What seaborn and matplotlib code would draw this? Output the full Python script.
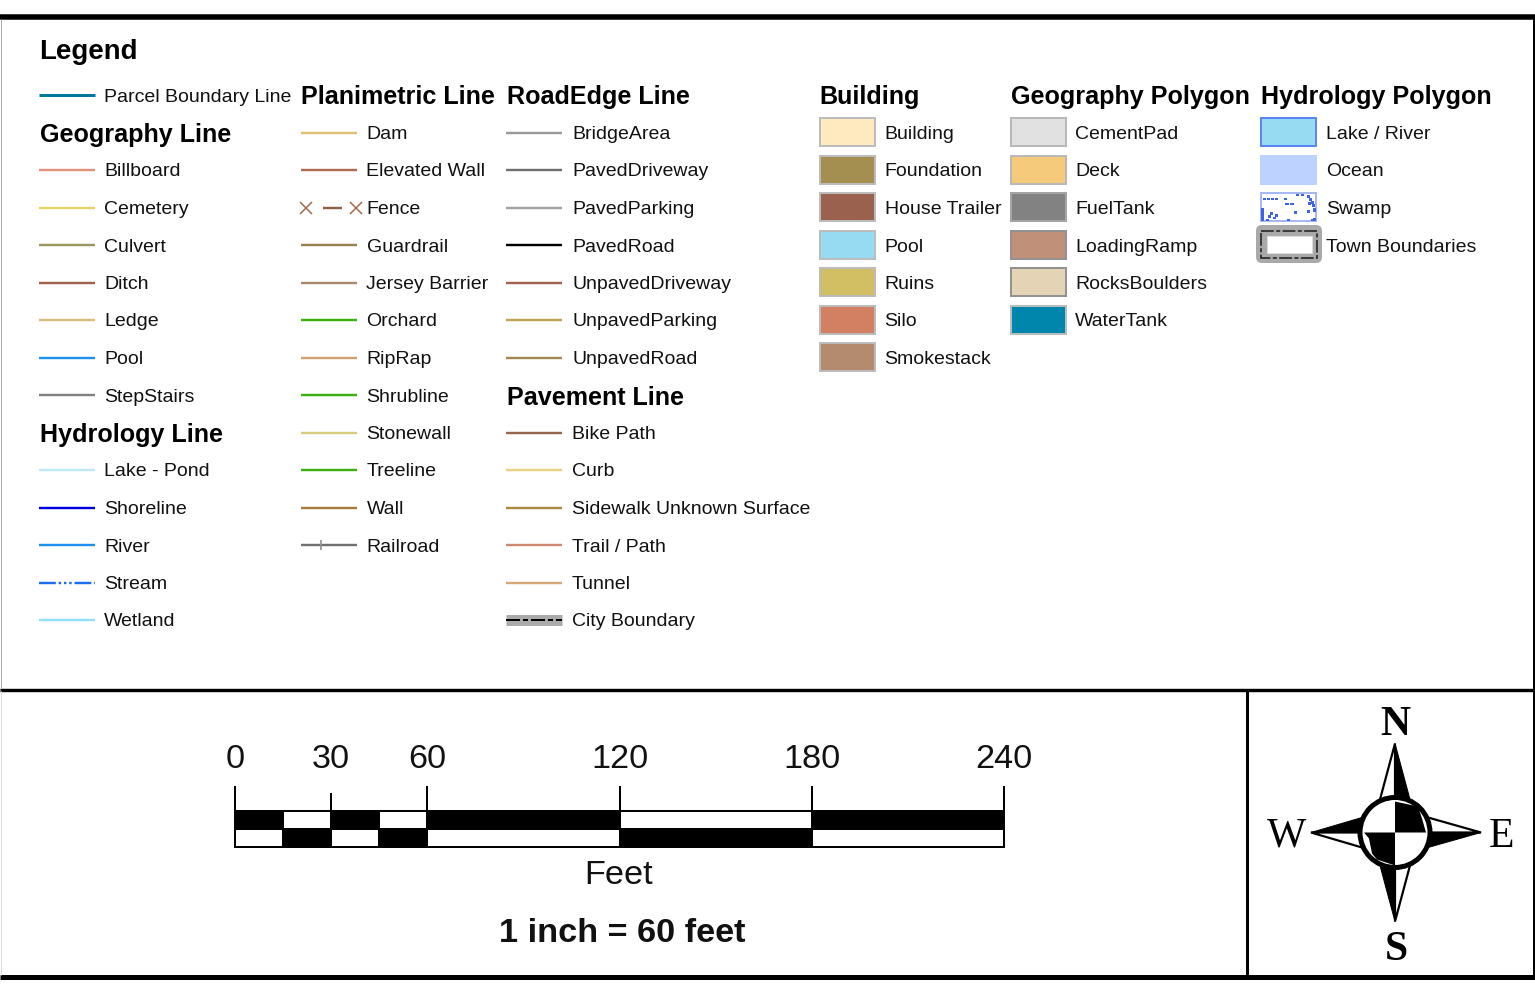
import matplotlib
matplotlib.use("Agg")
import matplotlib.pyplot as plt
import seaborn as sns
from matplotlib.patches import Rectangle, FancyBboxPatch, Circle, Polygon

sns.set_theme(style="white")
plt.rcParams['font.family'] = ['Liberation Sans', 'DejaVu Sans']
plt.rcParams['lines.solid_capstyle'] = 'butt'

# legend contents ##############################################################
parcel_names = ["Parcel Boundary Line"]
parcel_colors = ["#00789c"]

geoline_names = ["Billboard", "Cemetery", "Culvert", "Ditch", "Ledge", "Pool", "StepStairs"]
geoline_colors = ["#e0937c", "#e3d46c", "#9b9560", "#a0604c", "#d8bd80", "#1e90f0", "#808080"]

hydroline_names = ["Lake - Pond", "Shoreline", "River", "Stream", "Wetland"]
hydroline_colors = ["#bfe8f8", "#0000e0", "#1e90f0", "#1a6cf0", "#90e0fa"]

plani_names = ["Dam", "Elevated Wall", "Fence", "Guardrail", "Jersey Barrier", "Orchard",
               "RipRap", "Shrubline", "Stonewall", "Treeline", "Wall", "Railroad"]
plani_colors = ["#e3bf78", "#b06a50", "#8f5f48", "#988050", "#a88a6c", "#3cb010",
                "#d0a070", "#3cb010", "#d8cc80", "#3cb010", "#a87c40", "#707070"]

road_names = ["BridgeArea", "PavedDriveway", "PavedParking", "PavedRoad",
              "UnpavedDriveway", "UnpavedParking", "UnpavedRoad"]
road_colors = ["#9a9a9a", "#707070", "#a0a0a0", "#000000", "#a0604c", "#c0a050", "#a08850"]

pave_names = ["Bike Path", "Curb", "Sidewalk Unknown Surface", "Trail / Path", "Tunnel", "City Boundary"]
pave_colors = ["#98664c", "#e8d480", "#a88a3c", "#d08870", "#d4a878", "#000000"]

build_names = ["Building", "Foundation", "House Trailer", "Pool", "Ruins", "Silo", "Smokestack"]
build_fills = ["#ffe9bf", "#a58f50", "#9a624e", "#97dbf2", "#d2bf64", "#d27f62", "#b58b70"]

geopoly_names = ["CementPad", "Deck", "FuelTank", "LoadingRamp", "RocksBoulders", "WaterTank"]
geopoly_fills = ["#e1e1e1", "#f5ca7a", "#828282", "#c09078", "#e5d3b5", "#0086ad"]
geopoly_edges = ["#b8b8b8", "#b8b8b8", "#a4a4a4", "#929292", "#929292", "#bcbcbc"]

hydropoly_names = ["Lake / River", "Ocean", "Swamp", "Town Boundaries"]
hydropoly_fills = ["#97dbf2", "#bed2ff", "#ffffff", "#ffffff"]
hydropoly_edges = ["#5c86f0", "#bed2ff", "#a8b8f5", "#a9a9a9"]

# scale bar
scale_edges = [0, 15, 30, 45, 60, 120, 180, 240]
scale_major = [0, 60, 120, 180, 240]
scale_minor = [30]

# figure in pixel coordinates ##################################################
fig = plt.figure(figsize=(15.35, 10.08), dpi=100)
ax = fig.add_axes([0, 0, 1, 1])
ax.set_axis_off()

PT = 72 / 100  # one pixel in points
ROW0, ROWH = 95, 37.5
LABEL = 14.0
HEAD = 18.05


def row_y(row):
    return ROW0 + row * ROWH


def head(x, row, name, dy=9):
    ax.text(x, row_y(row) + dy, name, fontsize=HEAD, fontweight="bold", color="black", va="baseline")


def label(x, y, name):
    ax.text(x, y + 6.5, name, fontsize=LABEL, color="#111111", va="baseline")


def line_key(x, y, color, lw=2.4):
    sns.lineplot(x=[x, x + 56], y=[y, y], color=color, linewidth=lw * PT, ax=ax, estimator=None)
    return ax.lines[-1]


def line_group(x, text_x, first_row, names, colors):
    for i, (name, color) in enumerate(zip(names, colors)):
        y = row_y(first_row + i)
        if name == "Fence":
            sns.lineplot(x=[x + 22, x + 41], y=[y, y], color=color, linewidth=2.4 * PT, ax=ax, estimator=None)
            ax.plot([x + 5, x + 55], [y, y], ls="none", marker="x", ms=8.5, mew=1.1, color="#a06a50")
        elif name == "Stream":
            line_key(x, y, color).set_linestyle((0, (7, 1.2, 1, 1.2, 1, 1.2, 1, 1.2)))
        elif name == "Railroad":
            line_key(x, y, color)
            ax.plot([x + 20, x + 20], [y - 5, y + 5], color="#909090", lw=1.2)
        elif name == "City Boundary":
            line_key(x, y, "#aaaaaa", lw=11)
            line_key(x, y, "black", lw=2).set_linestyle((0, (7, 1.5, 2.5, 1.5)))
        else:
            line_key(x, y, color, lw=3 if name in parcel_names else 2.4)
        label(text_x, y, name)


def swatch_group(x, text_x, names, fills, edges):
    for i, (name, fill, edge) in enumerate(zip(names, fills, edges)):
        y = row_y(1 + i)
        ax.add_patch(Rectangle((x, y - 14.5), 55, 28, facecolor=fill, edgecolor=edge, linewidth=2 * PT))
        label(text_x, y, name)


ax.text(39.5, 59, "Legend", fontsize=19.9, fontweight="bold", color="black", va="baseline")

line_group(39, 104, 0, parcel_names, parcel_colors)
head(40, 1, "Geography Line", dy=9.5)
line_group(39, 104, 2, geoline_names, geoline_colors)
head(40, 9, "Hydrology Line", dy=9.5)
line_group(39, 104, 10, hydroline_names, hydroline_colors)

head(301, 0, "Planimetric Line")
line_group(301, 366.5, 1, plani_names, plani_colors)

head(507, 0, "RoadEdge Line")
line_group(506, 572, 1, road_names, road_colors)
head(507, 8, "Pavement Line", dy=10)
line_group(506, 572, 9, pave_names, pave_colors)

head(819.5, 0, "Building")
swatch_group(820, 884.6, build_names, build_fills, ["#bcbcbc"] * 7)

head(1011, 0, "Geography Polygon")
swatch_group(1011, 1075, geopoly_names, geopoly_fills, geopoly_edges)

head(1261, 0, "Hydrology Polygon")
swatch_group(1261, 1326, hydropoly_names[:3], hydropoly_fills[:3], hydropoly_edges[:3])

# swamp marks inside its swatch
swamp_blocks = [(2, 4.5, 3, 2.5), (6, 4.5, 3, 2.5), (10, 4.5, 3, 2.5), (13.5, 4.5, 3, 2.5), (23, 4.5, 3, 2.5),
                (24, 9.5, 4, 2.5), (29, 9.5, 4, 2.5), (33, 18, 2.5, 2.5), (35, 0.5, 3, 2), (40, 0.5, 3, 2),
                (46, 2, 3, 2.5), (48, 5, 3, 2.5), (50, 8, 3, 2.5), (47, 9, 2.5, 2.5), (51, 11, 2.5, 2.5),
                (46, 17, 3, 3), (52, 15, 2.5, 4), (52, 25, 2.5, 2.5), (0, 15, 3, 12.5), (5, 26, 2.5, 2),
                (7, 22, 2.5, 3), (9, 19, 2.5, 3), (12, 24, 2.5, 2), (14, 21, 2.5, 3), (26, 26, 3, 1.5),
                (50, 26, 3, 1.5)]
for bx, by, bw, bh in swamp_blocks:
    ax.add_patch(Rectangle((1261 + bx, 193 + by), bw, bh, facecolor="#3f63e6", edgecolor="none"))

# town boundaries key
town_y = row_y(4)
ax.add_patch(FancyBboxPatch((1256, 225), 66, 38, boxstyle="round,pad=0,rounding_size=6",
                            facecolor="#a9a9a9", edgecolor="none"))
ax.add_patch(Rectangle((1266.5, 235.5), 45, 17, facecolor="white", edgecolor="#dddddd", linewidth=1 * PT))
ax.add_patch(Rectangle((1260.5, 230.5), 56, 27.5, facecolor="none", edgecolor="#222222", linewidth=1.6 * PT,
                       linestyle=(0, (8, 1.5, 2.5, 1.5))))
label(1326, town_y, hydropoly_names[3])

# frame lines
ax.plot([0, 1535], [17.2, 17.2], color="black", lw=5.5 * PT)
ax.plot([0, 1535], [689.5, 689.5], color="black", lw=3.4 * PT)
ax.plot([0, 1535], [977, 977], color="black", lw=5 * PT)
ax.plot([1246.5, 1246.5], [689, 977], color="black", lw=3 * PT)
ax.plot([1534, 1534], [15, 979], color="black", lw=2 * PT)
ax.plot([0.5, 0.5], [19, 688], color="#aaaaaa", lw=1 * PT)
ax.plot([0.5, 0.5], [691, 975], color="#dddddd", lw=1 * PT)

# compass
cx, cy = 1395, 832.5
points = [
    ([(0, -89), (-15, -33), (0, -33)], [(0, -89), (15, -33), (0, -33)]),
    ([(86, 0), (33, -15), (33, 0)], [(86, 0), (33, 15), (33, 0)]),
    ([(0, 89), (15, 33), (0, 33)], [(0, 89), (-15, 33), (0, 33)]),
    ([(-84, 0), (-33, 15), (-33, 0)], [(-84, 0), (-33, -15), (-33, 0)]),
]
for white, black in points:
    ax.add_patch(Polygon([(cx + a, cy + b) for a, b in white], facecolor="white", edgecolor="black", linewidth=2.2 * PT))
    ax.add_patch(Polygon([(cx + a, cy + b) for a, b in black], facecolor="black", edgecolor="black", linewidth=1 * PT))
ax.add_patch(Circle((cx, cy), 35, facecolor="white", edgecolor="black", linewidth=5 * PT, zorder=3))
for quadrant in ([(0, 0), (0, -31), (23, -26), (27, -14), (31, 0)],
                 [(0, 0), (-31, 0), (-26, 6), (-23, 21), (-18, 27), (0, 33)]):
    ax.add_patch(Polygon([(cx + a, cy + b) for a, b in quadrant], facecolor="black", edgecolor="none", zorder=4))
for letter, x, y in [("N", 1395, 720.5), ("E", 1501, 832), ("S", 1396, 946), ("W", 1287, 832)]:
    ax.text(x, y, letter, fontsize=30, family="Liberation Serif", color="black", ha="center", va="center_baseline",
            fontweight="bold" if letter in "NS" else "normal")

ax.text(619, 871.5, "Feet", fontsize=24.7, color="#111111", ha="center", va="center_baseline")
ax.text(622, 930, "1 inch = 60 feet", fontsize=24.7, fontweight="bold", color="#111111", ha="center", va="center_baseline")

ax.set_xlim(0, 1535)
ax.set_ylim(1008, 0)

# scale bar on its own axes, so it keeps a real feet scale #####################
W, H = 1535, 1008
sb = fig.add_axes([235 / W, 1 - 847 / H, (1004 - 235) / W, (847 - 811) / H])
sb.set_xlim(scale_edges[0], scale_edges[-1])
sb.set_ylim(0, 2)
for i in range(len(scale_edges) - 1):
    left, right = scale_edges[i], scale_edges[i + 1]
    top_black = i % 2 == 0 if i < 5 else i == 6
    for ypos, black in ((1.5, top_black), (0.5, not top_black)):
        sb.barh(ypos, right - left, 1, left=left, color="black" if black else "white",
                edgecolor="black", linewidth=2 * PT, zorder=3 if black else 2)
sb.set_yticks([])
sb.xaxis.tick_top()
sb.set_xticks(scale_major, [str(v) for v in scale_major], fontsize=24.7, color="#111111")
sb.set_xticks(scale_minor, [str(v) for v in scale_minor], minor=True, fontsize=24.7, color="#111111")
sb.tick_params(axis="x", which="major", top=True, length=25 * PT, width=2 * PT, pad=10.5 * PT, color="black")
sb.tick_params(axis="x", which="minor", top=True, length=18 * PT, width=2 * PT, pad=17.5 * PT, color="black")
for spine in sb.spines.values():
    spine.set_visible(True)
    spine.set_color("black")
    spine.set_linewidth(2 * PT)

fig.savefig("out.png", dpi=100, facecolor="white")
